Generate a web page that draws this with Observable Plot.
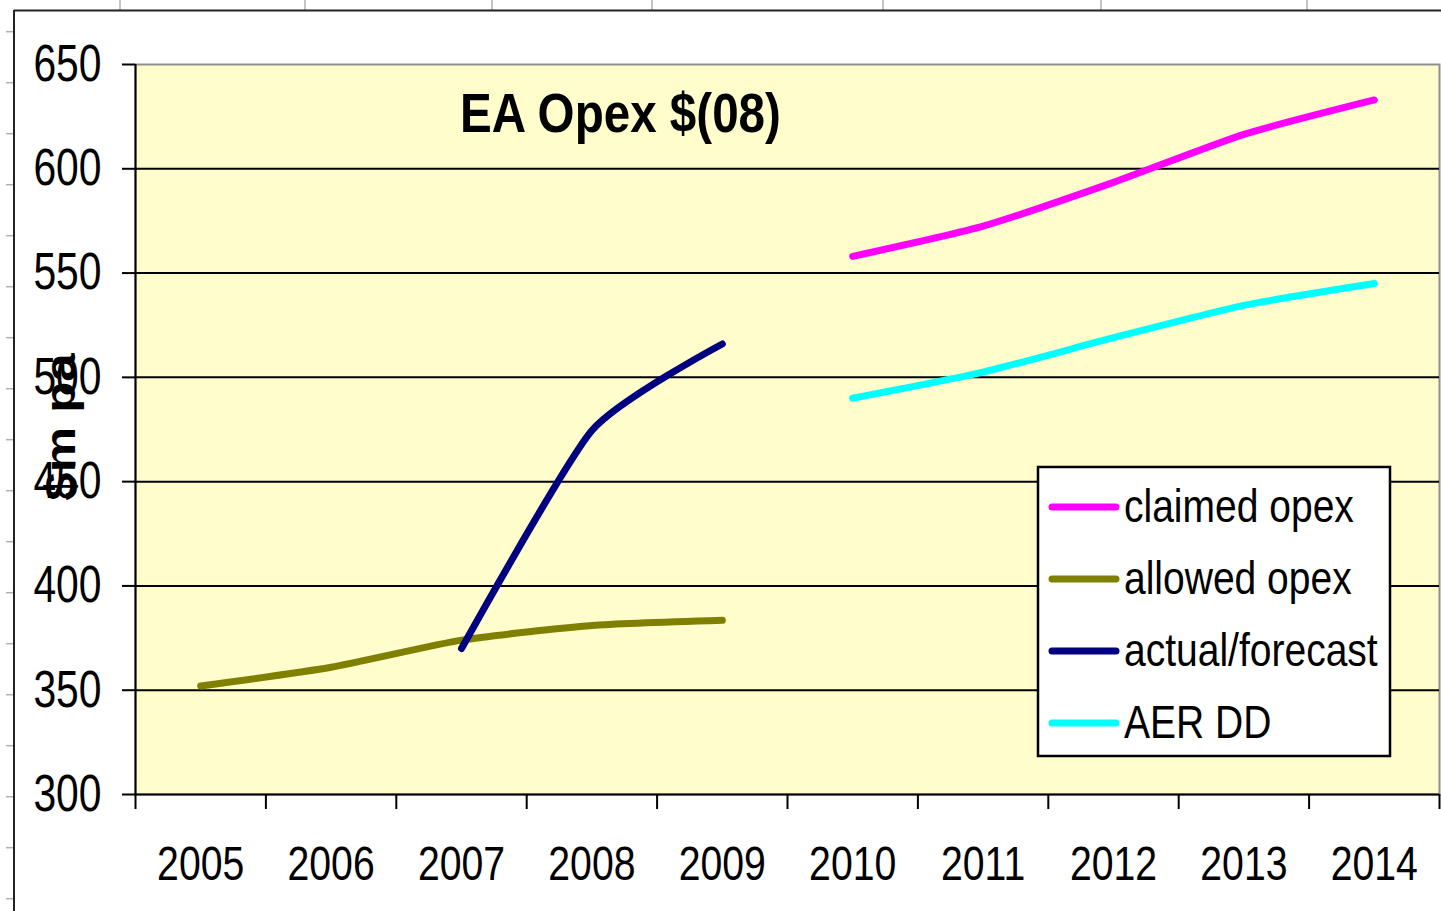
<!DOCTYPE html>
<html>
<head>
<meta charset="utf-8">
<script src="https://cdn.jsdelivr.net/npm/d3@7"></script>
<script src="https://cdn.jsdelivr.net/npm/@observablehq/plot@0.6"></script>
<style>
html, body { margin: 0; padding: 0; background: #fff; }
#chart { width: 1441px; height: 911px; overflow: hidden; }
#chart svg { display: block; }
</style>
</head>
<body>
<div id="chart"></div>
<script>
// ---- data ----
const years = [2005, 2006, 2007, 2008, 2009, 2010, 2011, 2012, 2013, 2014];
const allowedYears = [2005, 2006, 2007, 2008, 2009];
const allowedOpex = [352, 361, 374, 381, 383.5];
const actualYears = [2007, 2008, 2009];
const actualForecast = [370, 474.5, 516];
const claimedYears = [2010, 2011, 2012, 2013, 2014];
const claimedOpex = [558, 572.5, 593.5, 616.5, 633];
const aerYears = [2010, 2011, 2012, 2013, 2014];
const aerDD = [490, 502.5, 519, 534.5, 545];
const seriesNames = ["claimed opex", "allowed opex", "actual/forecast", "AER DD"];
const seriesColors = ["#FF00FF", "#808000", "#000080", "#00FFFF"];
const yTicks = [300, 350, 400, 450, 500, 550, 600, 650];
const title = "EA Opex $(08)";
const yLabel = "$m pa";

// ---- table ----
const rows = [];
const push = (name, xs, vs) => xs.forEach((x, i) => rows.push({series: name, year: x, value: vs[i]}));
push("claimed opex", claimedYears, claimedOpex);
push("allowed opex", allowedYears, allowedOpex);
push("actual/forecast", actualYears, actualForecast);
push("AER DD", aerYears, aerDD);

const xDomain = [years[0] - 0.5, years[years.length - 1] + 0.5];
const bounds = years.map(y => y - 0.5).concat([years[years.length - 1] + 0.5]);
const font = "'Liberation Sans', Arial, sans-serif";

const svg = Plot.plot({
  width: 1441,
  height: 911,
  marginLeft: 135,
  marginRight: 2,
  marginTop: 64,
  marginBottom: 117,
  style: {fontFamily: font, background: "#fff", color: "#000"},
  x: {domain: xDomain, label: null},
  y: {domain: [yTicks[0], yTicks[yTicks.length - 1]], label: null},
  color: {domain: seriesNames, range: seriesColors},
  marks: [
    Plot.frame({fill: "#FFFDCC", stroke: "#8f8f8f", strokeWidth: 2}),
    Plot.gridY(yTicks.slice(1, -1), {stroke: "#000", strokeOpacity: 1, strokeWidth: 2}),
    Plot.ruleY([yTicks[0]], {stroke: "#000", strokeWidth: 2}),
    Plot.ruleX([xDomain[0]], {stroke: "#000", strokeWidth: 2}),
    Plot.axisY(yTicks, {tickSize: 13, tickPadding: 21, fontSize: 51, strokeWidth: 2, label: null, tickFormat: d => String(d)}),
    Plot.axisX(bounds, {tickSize: 15, strokeWidth: 2, label: null, tickFormat: () => ""}),
    Plot.axisX(years, {tickSize: 0, tickPadding: 51, fontSize: 49, label: null, tickFormat: d => String(d)}),
    Plot.line(rows, {x: "year", y: "value", z: "series", stroke: "series", strokeWidth: 7,
      curve: "cardinal", tension: 0.4, strokeLinecap: "round", strokeLinejoin: "round"}),
    Plot.text([title], {text: d => d, frameAnchor: "top-left", dx: 485, dy: 50, fontSize: 56,
      fontWeight: "bold", textAnchor: "middle", lineAnchor: "middle", fill: "#000"})
  ]
});

// narrow the text horizontally, like the stretched original
function squeeze(t, s) {
  const tr = t.getAttribute("transform");
  if (tr) t.setAttribute("transform", tr + ` scale(${s},1)`);
  else {
    const x = +t.getAttribute("x") || 0, y = +t.getAttribute("y") || 0;
    t.removeAttribute("x"); t.removeAttribute("y");
    t.setAttribute("transform", `translate(${x},${y}) scale(${s},1)`);
  }
}
svg.querySelectorAll('g[aria-label$="tick label"] text').forEach(t => squeeze(t, 0.8));
svg.querySelectorAll('g[aria-label="text"] text').forEach(t => squeeze(t, 0.85));

const s = d3.select(svg);

// worksheet decoration behind the chart
const deco = s.insert("g", ":first-child");
[120, 305, 492, 652, 883, 1101, 1307].forEach(x =>
  deco.append("line").attr("x1", x).attr("x2", x).attr("y1", 0).attr("y2", 10)
    .attr("stroke", "#c4c4c4").attr("stroke-width", 2));
for (let k = 0; k < 18; k++) {
  const y = 31.7 + 51 * k;
  deco.append("line").attr("x1", 6).attr("x2", 14).attr("y1", y).attr("y2", y)
    .attr("stroke", "#b0b0b0").attr("stroke-width", 1.5);
}
const border = s.append("g");
border.append("line").attr("x1", 14).attr("x2", 14).attr("y1", 10).attr("y2", 911)
  .attr("stroke", "#222").attr("stroke-width", 2);
border.append("line").attr("x1", 14).attr("x2", 1441).attr("y1", 10.5).attr("y2", 10.5)
  .attr("stroke", "#222").attr("stroke-width", 2);

// y axis title (bold, rotated, overlapping the tick labels like the original)
s.append("text")
  .attr("transform", "translate(75,427) rotate(-90) scale(1,0.85)")
  .attr("text-anchor", "middle")
  .attr("font-family", font)
  .attr("font-weight", "bold")
  .attr("font-size", 51)
  .attr("fill", "#000")
  .text(yLabel);

// legend box inside the plot area
const lg = s.append("g").attr("transform", "translate(1038,467)");
lg.append("rect").attr("width", 352).attr("height", 289)
  .attr("fill", "#fff").attr("stroke", "#000").attr("stroke-width", 2.5);
seriesNames.forEach((name, i) => {
  const cy = 40 + i * 72;
  lg.append("line").attr("x1", 14).attr("x2", 78).attr("y1", cy).attr("y2", cy)
    .attr("stroke", seriesColors[i]).attr("stroke-width", 7).attr("stroke-linecap", "round");
  lg.append("text")
    .attr("transform", `translate(86,${cy}) scale(0.83,1)`)
    .attr("dy", "0.31em")
    .attr("text-anchor", "start")
    .attr("font-family", font)
    .attr("font-size", 47)
    .attr("fill", "#000")
    .text(name);
});

document.getElementById("chart").appendChild(svg);
</script>
</body>
</html>
